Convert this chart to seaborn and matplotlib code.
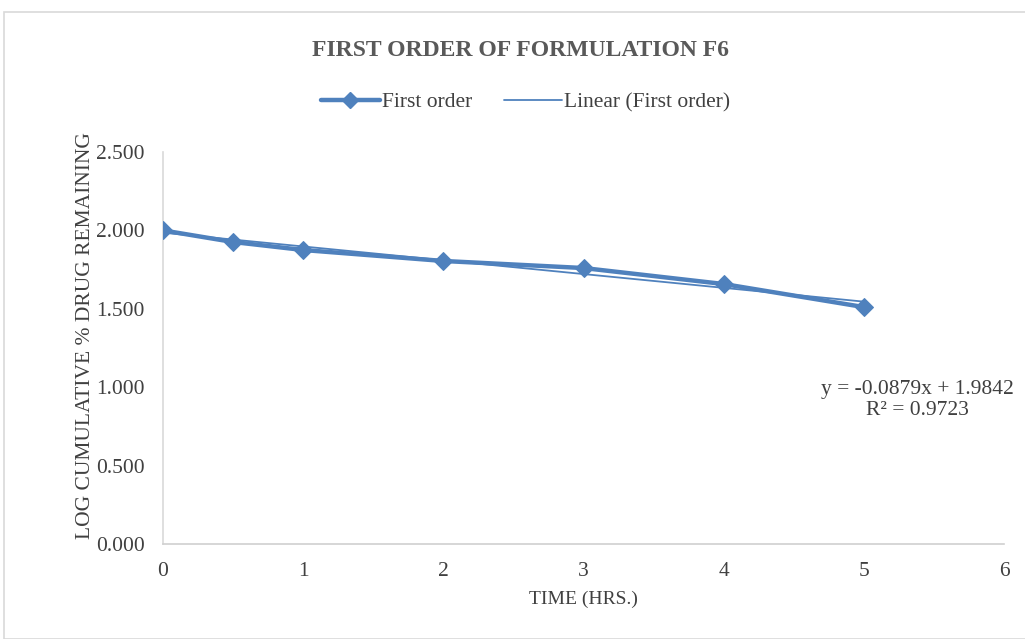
import numpy as np
import pandas as pd
import matplotlib
matplotlib.use("Agg")
import matplotlib.pyplot as plt
import seaborn as sns
from matplotlib.lines import Line2D
from matplotlib.patches import Rectangle

time_hrs = [0, 0.5, 1, 2, 3, 4, 5]
log_remaining = [2.000, 1.926, 1.875, 1.805, 1.760, 1.658, 1.511]
x_ticks = [0, 1, 2, 3, 4, 5, 6]
y_ticks = [0.0, 0.5, 1.0, 1.5, 2.0, 2.5]
title = "FIRST ORDER OF FORMULATION F6"
series_name = "First order"
trend_name = "Linear (First order)"
eq_text = "y = -0.0879x + 1.9842\nR² = 0.9723"

sns.set_theme(style="white")
plt.rcParams['font.family'] = ['Liberation Serif', 'DejaVu Serif']

blue = "#4F81BD"
grey_text = "#404040"
fs = 15.5

df = pd.DataFrame({"time": time_hrs, "logrem": log_remaining})

fig = plt.figure(figsize=(10.25, 6.39), dpi=100)
# chart border
fig.patches.append(Rectangle((4/1025, 0.0), 1.2, 1 - 12/639, transform=fig.transFigure,
                             fill=False, edgecolor="#D9D9D9", lw=1.2))
ax = fig.add_axes([163/1025, 1 - 544/639, (1004 - 163)/1025, (544 - 152)/639])

# trendline (least squares fit computed by seaborn)
sns.regplot(data=df, x="time", y="logrem", ax=ax, scatter=False, ci=None,
            truncate=True, line_kws=dict(color=blue, lw=1.3))
sns.lineplot(data=df, x="time", y="logrem", ax=ax, color=blue, lw=3.2,
             marker="D", markersize=9, markeredgecolor=blue, zorder=3)

ax.set_xlim(0, 6)
ax.set_ylim(0, 2.5)
ax.set_xticks(x_ticks)
ax.set_yticks(y_ticks)
ax.set_xticklabels([str(t) for t in x_ticks])
ax.set_yticklabels([f"{v:.3f}" for v in y_ticks])
ax.tick_params(axis="x", direction="out", length=6, width=1.2, color="#D0D0D0",
               labelsize=fs, labelcolor=grey_text, pad=7)
ax.tick_params(axis="y", length=0, labelsize=fs, labelcolor=grey_text, pad=13)
for s in ["top", "right"]:
    ax.spines[s].set_visible(False)
ax.spines["left"].set_color("#D9D9D9")
ax.spines["left"].set_linewidth(1.2)
ax.spines["bottom"].set_color("#D0D0D0")
ax.spines["bottom"].set_linewidth(1.2)

ax.set_xlabel("TIME (HRS.)", fontsize=14, color=grey_text, labelpad=7)
ax.set_ylabel("LOG CUMULATIVE % DRUG REMAINING", fontsize=fs, color=grey_text)
ax.yaxis.set_label_coords(-0.081, 0.533)

ax.text(5.38, 0.917, eq_text, ha="center", va="center", fontsize=fs,
        color=grey_text, linespacing=1.15)

fig.text(520/1025, 1 - 50/639, title, ha="center", va="center", fontsize=17,
         fontweight="bold", color="#595959")

handles = [Line2D([0], [0], color=blue, lw=3.2, marker="D", markersize=8),
           Line2D([0], [0], color=blue, lw=1.3)]
fig.legend(handles, [series_name, trend_name], loc="center",
           bbox_to_anchor=(526/1025, 1 - 102/639), ncol=2, frameon=False,
           fontsize=fs, handlelength=2.7, columnspacing=1.5, handletextpad=0.1,
           labelcolor=grey_text)

fig.savefig("out.png", dpi=100)
